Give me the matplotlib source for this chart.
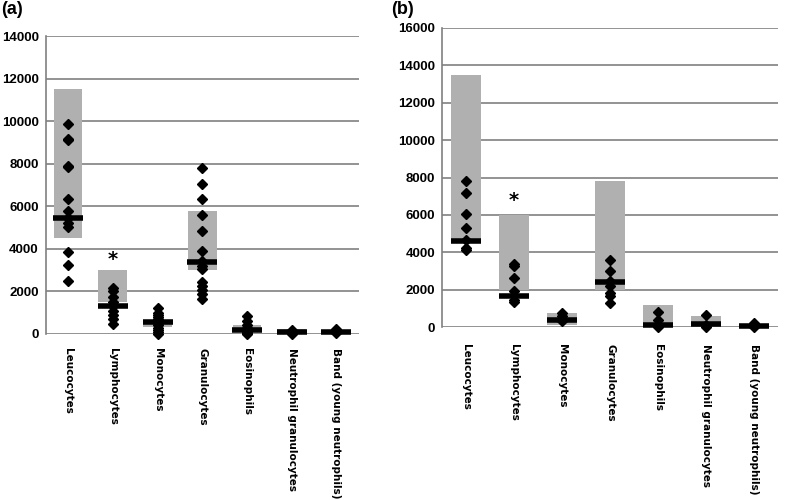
import matplotlib
matplotlib.use('Agg')
import matplotlib.pyplot as plt

cells = ['Leucocytes', 'Lymphocytes', 'Monocytes', 'Granulocytes', 'Eosinophils',
         'Neutrophil granulocytes', 'Band (young neutrophils)']

# panel (a)
a_low = [4500, 1500, 350, 3000, 100, 50, 0]
a_high = [11500, 3000, 550, 5800, 400, 250, 100]
a_median = [5450, 1300, 550, 3400, 200, 100, 100]
a_points = [
    [9850, 9150, 9100, 7900, 7850, 6350, 5800, 5450, 5200, 5050, 3850, 3250, 2500],
    [2150, 2000, 1750, 1500, 1300, 1100, 900, 700, 450],
    [1200, 1000, 900, 800, 700, 600, 500, 400, 300, 200, 100, 0],
    [7800, 7050, 6350, 5600, 4850, 3900, 3450, 3200, 3050, 2450, 2250, 2050, 1900, 1650],
    [850, 600, 400, 300, 200, 100, 50, 0],
    [200, 100, 50, 0],
    [250, 150, 100, 50],
]

# panel (b)
b_low = [4500, 2000, 100, 2000, 50, 100, 0]
b_high = [13500, 6000, 750, 7800, 1200, 600, 150]
b_median = [4600, 1650, 400, 2400, 120, 150, 50]
b_points = [
    [7830, 7170, 6070, 5320, 4640, 4230, 4100],
    [3370, 3250, 2620, 1940, 1460, 1320],
    [750, 570, 300],
    [3600, 2980, 2480, 2180, 1820, 1640, 1280],
    [800, 400, 120, 0],
    [650, 120, 0],
    [200, 100, 0],
]

star_a = 3500
star_b = 6750

fig = plt.figure(figsize=(7.87, 5.0), dpi=100)
ax_a = fig.add_axes([0.058, 0.332, 0.398, 0.596])
ax_b = fig.add_axes([0.5616, 0.346, 0.427, 0.598])


def draw(ax, low, high, med, pts, ymax, star_y, star_idx, pad):
    x = list(range(len(cells)))
    heights = [h - l for h, l in zip(high, low)]
    ax.bar(x, heights, bottom=low, width=0.64, color='#b0b0b0', zorder=2)
    for i, p in enumerate(pts):
        ax.plot([i] * len(p), p, linestyle='none', marker='D', markersize=5,
                color='black', zorder=3, clip_on=False)
    ax.plot(x, med, linestyle='none', marker='_', markersize=22,
            markeredgewidth=4, color='black', zorder=4, clip_on=False)
    ax.text(star_idx, star_y, '*', ha='center', va='center', fontsize=14,
            fontweight='bold', zorder=5)
    ax.set_xlim(-0.5, len(cells) - 0.5)
    ax.set_ylim(0, ymax)
    ax.set_yticks(range(0, ymax + 1, 2000))
    ax.yaxis.grid(True, color='#808080', linewidth=1.2, zorder=1)
    ax.set_axisbelow(True)
    for s in ['top', 'right', 'bottom']:
        ax.spines[s].set_visible(False)
    ax.spines['left'].set_color('#808080')
    ax.spines['left'].set_linewidth(1.2)
    ax.tick_params(axis='y', length=0, pad=5)
    for lab in ax.get_yticklabels():
        lab.set_fontweight('bold')
        lab.set_fontfamily('Liberation Sans')
        lab.set_fontsize(9.5)
    ax.set_xticks(x)
    ax.set_xticklabels(cells, rotation=270, fontsize=7.5, va='top', ha='center',
                       family='DejaVu Sans', fontweight='bold')
    ax.tick_params(axis='x', length=0, pad=pad)


draw(ax_a, a_low, a_high, a_median, a_points, 14000, star_a, 1, 10)
draw(ax_b, b_low, b_high, b_median, b_points, 16000, star_b, 1, 12)

fig.text(0.002, 0.998, '(a)', fontsize=13, fontweight='bold', family='Liberation Sans',
         va='top', ha='left')
fig.text(0.497, 0.998, '(b)', fontsize=13, fontweight='bold', family='Liberation Sans',
         va='top', ha='left')

fig.savefig('out.png', dpi=100)
